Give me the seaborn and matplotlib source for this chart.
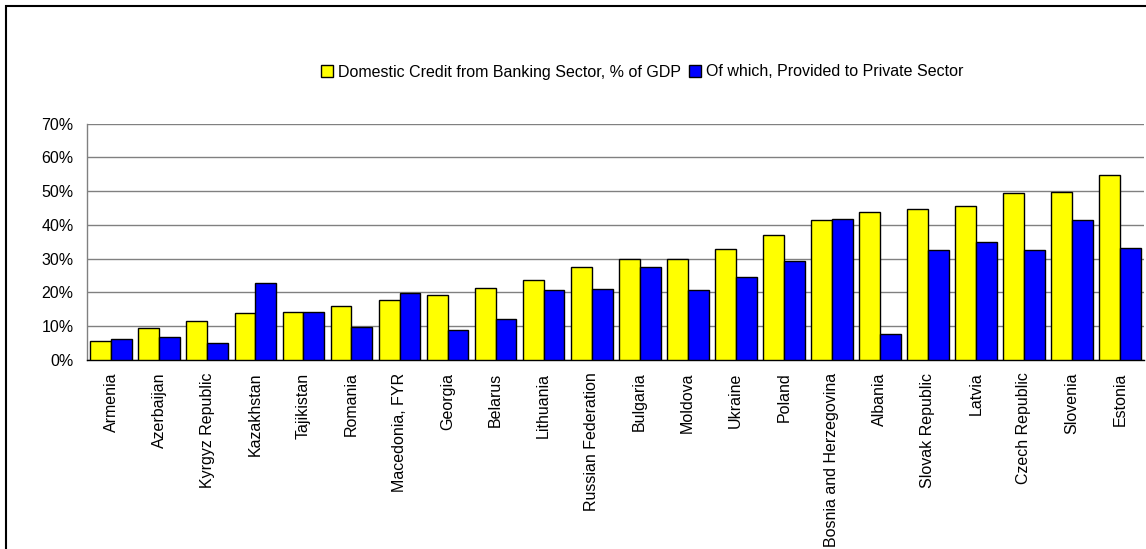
import matplotlib
matplotlib.use("Agg")
import matplotlib.pyplot as plt
from matplotlib.patches import Rectangle
from matplotlib.ticker import PercentFormatter
import seaborn as sns
import pandas as pd

countries = [
    "Armenia", "Azerbaijan", "Kyrgyz Republic", "Kazakhstan", "Tajikistan",
    "Romania", "Macedonia, FYR", "Georgia", "Belarus", "Lithuania",
    "Russian Federation", "Bulgaria", "Moldova", "Ukraine", "Poland",
    "Bosnia and Herzegovina", "Albania", "Slovak Republic", "Latvia",
    "Czech Republic", "Slovenia", "Estonia",
]
domestic_credit = [
    5.7, 9.4, 11.5, 13.8, 14.1, 15.9, 17.8, 19.4, 21.3, 23.6, 27.6,
    29.8, 30.0, 32.8, 37.0, 41.6, 43.9, 44.7, 45.5, 49.6, 49.9, 54.9,
]
private_credit = [
    6.2, 6.7, 4.9, 22.9, 14.1, 9.8, 19.8, 8.8, 12.0, 20.7, 21.0,
    27.6, 20.7, 24.7, 29.3, 41.9, 7.8, 32.6, 34.9, 32.5, 41.6, 33.1,
]
series_names = [
    "Domestic Credit from Banking Sector, % of GDP",
    "Of which, Provided to Private Sector",
]
y_ticks = [0, 10, 20, 30, 40, 50, 60, 70]

df = pd.concat([
    pd.DataFrame({"country": countries, "value": domestic_credit, "series": series_names[0]}),
    pd.DataFrame({"country": countries, "value": private_credit, "series": series_names[1]}),
])

sns.set_style("white")
plt.rcParams["font.family"] = ["Liberation Sans", "DejaVu Sans"]
plt.rcParams["font.size"] = 11.5
plt.rcParams["text.color"] = "black"
plt.rcParams["xtick.color"] = "black"
plt.rcParams["ytick.color"] = "black"
plt.rcParams["axes.labelcolor"] = "black"

W, H = 1146, 549
fig = plt.figure(figsize=(W / 100, H / 100), dpi=100)
ax = fig.add_axes([87.3 / W, 1 - 360 / H, (1144 - 87.3) / W, (360 - 123.7) / H])

sns.barplot(
    data=df, x="country", y="value", hue="series", order=countries,
    hue_order=series_names, palette=["#FFFF00", "#0000FF"],
    edgecolor="black", linewidth=1.0, width=0.87, saturation=1,
    ax=ax, zorder=3,
)

ax.set_ylim(0, 70)
ax.set_xlim(-0.5, len(countries) - 0.5)
ax.set_yticks(y_ticks)
ax.yaxis.set_major_formatter(PercentFormatter(decimals=0))
ax.set_xlabel("")
ax.set_ylabel("")
ax.grid(axis="y", color="#808080", linewidth=1.0, zorder=0)
ax.set_axisbelow(True)
for side in ("top", "right"):
    ax.spines[side].set_visible(False)
ax.spines["left"].set_color("#808080")
ax.spines["left"].set_linewidth(1.0)
ax.spines["bottom"].set_color("black")
ax.spines["bottom"].set_linewidth(1.0)
ax.tick_params(axis="y", length=0, pad=10, labelsize=11.5, labelcolor="black")
ax.tick_params(axis="x", length=0, pad=9, labelsize=11.5, labelrotation=90,
               labelcolor="black")

leg = ax.get_legend()
handles = leg.legend_handles
leg.remove()
fig.legend(
    handles, series_names, loc="center", bbox_to_anchor=(642 / W, 1 - 72 / H),
    ncol=2, frameon=False, handlelength=0.75, handleheight=0.75,
    handletextpad=0.3, columnspacing=0.5, fontsize=11.5, labelcolor="black",
)

# outer chart frame
fig.patches.append(Rectangle(
    (6 / W, -0.05), 1.1, 1 - 6 / H + 0.05, transform=fig.transFigure,
    fill=False, edgecolor="black", linewidth=1.5, zorder=10,
))

fig.savefig("out.png", dpi=100, facecolor="white")
